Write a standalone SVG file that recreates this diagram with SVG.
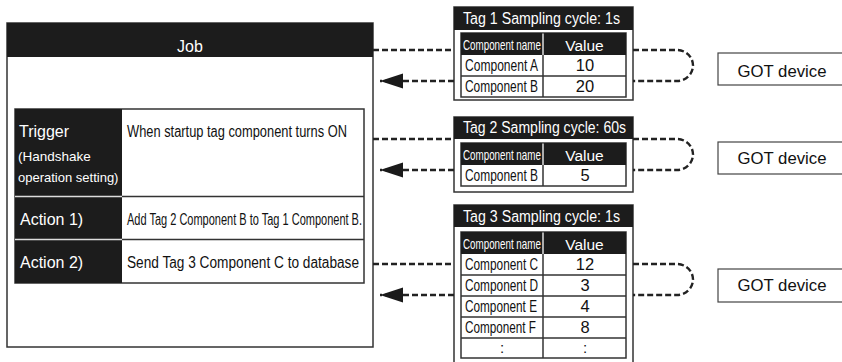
<svg xmlns="http://www.w3.org/2000/svg" width="842" height="362" viewBox="0 0 842 362">
<style>
text{font-family:"Liberation Sans",Arial,Helvetica,sans-serif;}
.wt{fill:#fff}
.bt{fill:#111}
.blk{fill:#1c1c1c}
.box{fill:#fff;stroke:#333;stroke-width:1.5}
.ln{stroke:#333;stroke-width:1.5;fill:none}
.wl{stroke:#ddd;stroke-width:1.5;fill:none}
.dash{fill:none;stroke:#222;stroke-width:2.4;stroke-dasharray:6 3}
.got{fill:#fff;stroke:#444;stroke-width:1.2}
.cn{font-size:14px;fill:#fff}
</style>
<defs>
<marker id="ah" markerUnits="userSpaceOnUse" markerWidth="26" markerHeight="16" refX="23" refY="8" orient="auto">
<path d="M0,0.5 L23,8 L0,15.5 z" fill="#1a1a1a" stroke="none"/>
</marker>
</defs>

<g id="job">
<rect class="box" x="7" y="23" width="366" height="324"/>
<rect class="blk" x="7" y="23" width="366" height="34"/>
<text class="wt" x="190" y="51.5" font-size="16" text-anchor="middle">Job</text>
<rect class="box" x="15" y="109" width="349" height="174"/>
<rect class="blk" x="15" y="109" width="107" height="174"/>
<line class="wl" x1="15" y1="196.5" x2="122" y2="196.5"/>
<line class="wl" x1="15" y1="239.5" x2="122" y2="239.5"/>
<line class="ln" x1="122" y1="196.5" x2="364" y2="196.5"/>
<line class="ln" x1="122" y1="239.5" x2="364" y2="239.5"/>
<text class="wt" x="19" y="137" font-size="16">Trigger</text>
<text class="wt" x="18" y="161" font-size="13.5">(Handshake</text>
<text class="wt" x="18" y="182" font-size="13">operation setting)</text>
<text class="bt" x="127" y="137" font-size="16" textLength="220" lengthAdjust="spacingAndGlyphs">When startup tag component turns ON</text>
<text class="wt" x="20" y="225" font-size="16">Action 1)</text>
<text class="bt" x="127" y="225" font-size="16" textLength="235" lengthAdjust="spacingAndGlyphs">Add Tag 2 Component B to Tag 1 Component B.</text>
<text class="wt" x="20" y="267.5" font-size="16">Action 2)</text>
<text class="bt" x="127" y="267.5" font-size="16" textLength="232" lengthAdjust="spacingAndGlyphs">Send Tag 3 Component C to database</text>
</g>

<g id="tag1">
<rect class="box" x="454" y="7" width="179" height="93" stroke-width="1.2"/>
<rect class="blk" x="454" y="7" width="179" height="23"/>
<text class="wt" x="463" y="24" font-size="16" textLength="157" lengthAdjust="spacingAndGlyphs">Tag 1 Sampling cycle: 1s</text>
<rect class="box" x="461" y="33" width="165" height="64"/>
<rect class="blk" x="461" y="33" width="165" height="22"/>
<line class="wl" x1="543" y1="33.5" x2="543" y2="55"/>
<line class="ln" x1="543" y1="55" x2="543" y2="97"/>
<line class="ln" x1="461" y1="76" x2="626" y2="76"/>
<text class="cn" transform="translate(463,50) scale(0.7,1)">Component name</text>
<text class="wt" x="584.5" y="50.5" font-size="15.5" text-anchor="middle">Value</text>
<text class="bt" x="465" y="71" font-size="16" textLength="73" lengthAdjust="spacingAndGlyphs">Component A</text>
<text class="bt" x="585" y="71" font-size="16.5" text-anchor="middle">10</text>
<text class="bt" x="465" y="92" font-size="16" textLength="73" lengthAdjust="spacingAndGlyphs">Component B</text>
<text class="bt" x="585" y="92" font-size="16.5" text-anchor="middle">20</text>
</g>

<g id="tag2">
<rect class="box" x="454" y="117" width="179" height="75" stroke-width="1.2"/>
<rect class="blk" x="454" y="117" width="179" height="22"/>
<text class="wt" x="463" y="133" font-size="16" textLength="163" lengthAdjust="spacingAndGlyphs">Tag 2 Sampling cycle: 60s</text>
<rect class="box" x="461" y="143" width="165" height="43"/>
<rect class="blk" x="461" y="143" width="165" height="22"/>
<line class="wl" x1="543" y1="143.5" x2="543" y2="165"/>
<line class="ln" x1="543" y1="165" x2="543" y2="186"/>
<text class="cn" transform="translate(463,160) scale(0.7,1)">Component name</text>
<text class="wt" x="584.5" y="160.5" font-size="15.5" text-anchor="middle">Value</text>
<text class="bt" x="465" y="181" font-size="16" textLength="73" lengthAdjust="spacingAndGlyphs">Component B</text>
<text class="bt" x="585" y="181" font-size="16.5" text-anchor="middle">5</text>
</g>

<g id="tag3">
<rect class="box" x="454" y="205" width="179" height="170" stroke-width="1.2"/>
<rect class="blk" x="454" y="205" width="179" height="22"/>
<text class="wt" x="463" y="222" font-size="16" textLength="157" lengthAdjust="spacingAndGlyphs">Tag 3 Sampling cycle: 1s</text>
<rect class="box" x="461" y="232" width="165" height="126"/>
<rect class="blk" x="461" y="232" width="165" height="22"/>
<line class="wl" x1="543" y1="232.5" x2="543" y2="254"/>
<line class="ln" x1="543" y1="254" x2="543" y2="358"/>
<line class="ln" x1="461" y1="275" x2="626" y2="275"/>
<line class="ln" x1="461" y1="296" x2="626" y2="296"/>
<line class="ln" x1="461" y1="317" x2="626" y2="317"/>
<line class="ln" x1="461" y1="338" x2="626" y2="338"/>
<text class="cn" transform="translate(463,249) scale(0.7,1)">Component name</text>
<text class="wt" x="584.5" y="249.5" font-size="15.5" text-anchor="middle">Value</text>
<text class="bt" x="465" y="269.5" font-size="16" textLength="73" lengthAdjust="spacingAndGlyphs">Component C</text>
<text class="bt" x="585" y="269.5" font-size="16.5" text-anchor="middle">12</text>
<text class="bt" x="465" y="290.5" font-size="16" textLength="73" lengthAdjust="spacingAndGlyphs">Component D</text>
<text class="bt" x="585" y="290.5" font-size="16.5" text-anchor="middle">3</text>
<text class="bt" x="465" y="311.5" font-size="16" textLength="72" lengthAdjust="spacingAndGlyphs">Component E</text>
<text class="bt" x="585" y="311.5" font-size="16.5" text-anchor="middle">4</text>
<text class="bt" x="465" y="332.5" font-size="16" textLength="71" lengthAdjust="spacingAndGlyphs">Component F</text>
<text class="bt" x="585" y="332.5" font-size="16.5" text-anchor="middle">8</text>
<text class="bt" x="502" y="353" font-size="15" text-anchor="middle">:</text>
<text class="bt" x="585" y="353" font-size="15" text-anchor="middle">:</text>
</g>

<g id="got1">
<rect class="got" x="718" y="53" width="130" height="32"/>
<text class="bt" x="782" y="76.5" font-size="16" text-anchor="middle" textLength="89" lengthAdjust="spacingAndGlyphs">GOT device</text>
</g>
<g id="got2">
<rect class="got" x="718" y="142" width="130" height="32"/>
<text class="bt" x="782" y="164" font-size="16" text-anchor="middle" textLength="89" lengthAdjust="spacingAndGlyphs">GOT device</text>
</g>
<g id="got3">
<rect class="got" x="718" y="269" width="130" height="33"/>
<text class="bt" x="782" y="290.5" font-size="16" text-anchor="middle" textLength="89" lengthAdjust="spacingAndGlyphs">GOT device</text>
</g>

<g id="connectors">
<path class="dash" d="M373,50 H454"/>
<path class="dash" d="M454,81 H380" marker-end="url(#ah)"/>
<path class="dash" d="M373,139 H454"/>
<path class="dash" d="M454,170 H380" marker-end="url(#ah)"/>
<path class="dash" d="M373,264 H454"/>
<path class="dash" d="M454,295 H380" marker-end="url(#ah)"/>
<path class="dash" d="M633,50 H677 A16,15.5 0 0 1 677,81 H633"/>
<path class="dash" d="M633,139 H677 A16,15.5 0 0 1 677,170 H633"/>
<path class="dash" d="M633,264 H677 A16,15.5 0 0 1 677,295 H633"/>
</g>
</svg>
